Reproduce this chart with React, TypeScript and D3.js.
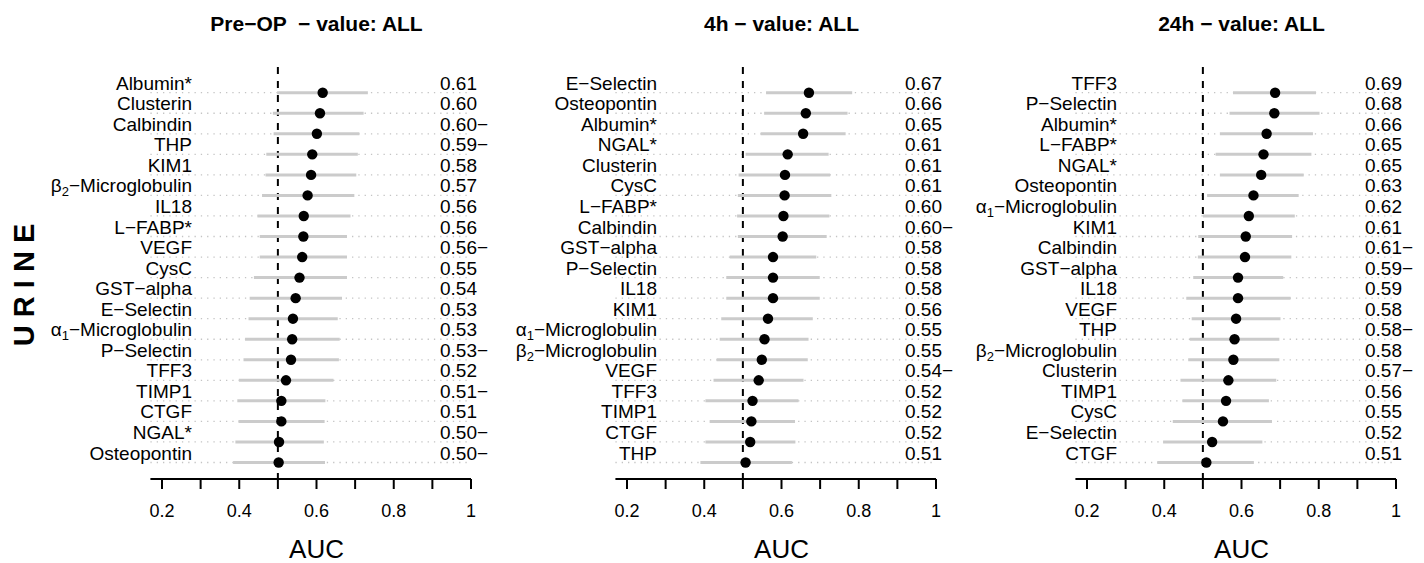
import * as d3 from 'd3';

// AUC dot plots for the urine markers, three time points

const preOpMarkers = ['Albumin*', 'Clusterin', 'Calbindin', 'THP', 'KIM1', 'β2−Microglobulin', 'IL18', 'L−FABP*', 'VEGF', 'CysC', 'GST−alpha', 'E−Selectin', 'α1−Microglobulin', 'P−Selectin', 'TFF3', 'TIMP1', 'CTGF', 'NGAL*', 'Osteopontin'];
const preOpAuc = [0.616, 0.609, 0.601, 0.589, 0.586, 0.577, 0.567, 0.566, 0.563, 0.556, 0.546, 0.539, 0.537, 0.534, 0.521, 0.509, 0.509, 0.503, 0.502];
const preOpLower = [0.498, 0.487, 0.489, 0.470, 0.468, 0.459, 0.447, 0.453, 0.453, 0.438, 0.427, 0.424, 0.415, 0.411, 0.399, 0.395, 0.398, 0.390, 0.384];
const preOpUpper = [0.733, 0.722, 0.711, 0.707, 0.703, 0.698, 0.688, 0.679, 0.679, 0.679, 0.666, 0.655, 0.660, 0.658, 0.644, 0.623, 0.621, 0.619, 0.622];
const preOpLabels = ['0.61', '0.60', '0.60−', '0.59−', '0.58', '0.57', '0.56', '0.56', '0.56−', '0.55', '0.54', '0.53', '0.53', '0.53−', '0.52', '0.51−', '0.51', '0.50−', '0.50−'];

const h4Markers = ['E−Selectin', 'Osteopontin', 'Albumin*', 'NGAL*', 'Clusterin', 'CysC', 'L−FABP*', 'Calbindin', 'GST−alpha', 'P−Selectin', 'IL18', 'KIM1', 'α1−Microglobulin', 'β2−Microglobulin', 'VEGF', 'TFF3', 'TIMP1', 'CTGF', 'THP'];
const h4Auc = [0.671, 0.663, 0.656, 0.616, 0.609, 0.608, 0.605, 0.603, 0.578, 0.578, 0.578, 0.565, 0.556, 0.549, 0.541, 0.525, 0.522, 0.519, 0.507];
const h4Lower = [0.560, 0.555, 0.546, 0.507, 0.489, 0.487, 0.485, 0.487, 0.466, 0.457, 0.457, 0.444, 0.440, 0.432, 0.424, 0.403, 0.414, 0.403, 0.390];
const h4Upper = [0.783, 0.771, 0.766, 0.722, 0.726, 0.729, 0.724, 0.717, 0.690, 0.699, 0.699, 0.681, 0.670, 0.668, 0.657, 0.644, 0.635, 0.636, 0.627];
const h4Labels = ['0.67', '0.66', '0.65', '0.61', '0.61', '0.61', '0.60', '0.60−', '0.58', '0.58', '0.58', '0.56', '0.55', '0.55', '0.54−', '0.52', '0.52', '0.52', '0.51'];

const h24Markers = ['TFF3', 'P−Selectin', 'Albumin*', 'L−FABP*', 'NGAL*', 'Osteopontin', 'α1−Microglobulin', 'KIM1', 'Calbindin', 'GST−alpha', 'IL18', 'VEGF', 'THP', 'β2−Microglobulin', 'Clusterin', 'TIMP1', 'CysC', 'E−Selectin', 'CTGF'];
const h24Auc = [0.687, 0.685, 0.665, 0.657, 0.651, 0.631, 0.619, 0.611, 0.609, 0.591, 0.591, 0.586, 0.582, 0.579, 0.566, 0.560, 0.552, 0.524, 0.509];
const h24Lower = [0.578, 0.569, 0.544, 0.533, 0.544, 0.511, 0.500, 0.488, 0.487, 0.475, 0.457, 0.471, 0.466, 0.462, 0.442, 0.447, 0.422, 0.397, 0.382];
const h24Upper = [0.793, 0.802, 0.785, 0.781, 0.761, 0.748, 0.738, 0.731, 0.729, 0.708, 0.727, 0.701, 0.698, 0.698, 0.690, 0.671, 0.679, 0.654, 0.632];
const h24Labels = ['0.69', '0.68', '0.66', '0.65', '0.65', '0.63', '0.62', '0.61', '0.61−', '0.59−', '0.59', '0.58', '0.58−', '0.58', '0.57−', '0.56', '0.55', '0.52', '0.51'];

const panelTitles = ['Pre−OP  − value: ALL', '4h − value: ALL', '24h − value: ALL'];
const xTicks = [0.2, 0.3, 0.4, 0.5, 0.6, 0.7, 0.8, 0.9, 1];
const xTickLabels = ['0.2', '', '0.4', '', '0.6', '', '0.8', '', '1'];

const W = 1424;
const H = 563;
const FONT = '"Liberation Sans", Arial, Helvetica, sans-serif';

const panels = [
  { left: 162, title: panelTitles[0], markers: preOpMarkers, auc: preOpAuc, lo: preOpLower, hi: preOpUpper, labels: preOpLabels },
  { left: 627, title: panelTitles[1], markers: h4Markers, auc: h4Auc, lo: h4Lower, hi: h4Upper, labels: h4Labels },
  { left: 1087, title: panelTitles[2], markers: h24Markers, auc: h24Auc, lo: h24Lower, hi: h24Upper, labels: h24Labels },
];

// greek letter with a subscript digit, e.g. β2−Microglobulin
function MarkerName({ name }: { name: string }) {
  const m = name.match(/^([αβ])(\d)(.*)$/);
  if (!m) return <>{name}</>;
  return (
    <>
      {m[1]}
      <tspan dy={4} fontSize={13}>{m[2]}</tspan>
      <tspan dy={-4}>{m[3]}</tspan>
    </>
  );
}

function Panel({ p }: { p: typeof panels[number] }) {
  const x = d3.scaleLinear().domain([0.2, 1]).range([p.left, p.left + 309]);
  const y = d3.scalePoint<number>().domain(d3.range(p.markers.length)).range([92.7, 462.5]);
  const axisY = 479;
  const x0 = x(0.17);
  const x1 = x(1);

  return (
    <g>
      <text x={(x(0.2) + x(1)) / 2} y={31} textAnchor="middle" fontSize={21} fontWeight="bold"
        style={{ whiteSpace: 'pre' }}>
        {p.title}
      </text>

      {/* dotted row guides */}
      {p.markers.map((_, i) => (
        <line key={'g' + i} x1={x0} x2={x(0.992)} y1={y(i)} y2={y(i)}
          stroke="#c4c4c4" strokeWidth={1.3} strokeDasharray="1.3,5" />
      ))}

      <line x1={x(0.5)} x2={x(0.5)} y1={67} y2={axisY} stroke="#000" strokeWidth={2} strokeDasharray="7,7" />

      {/* confidence intervals */}
      {p.markers.map((_, i) => (
        <line key={'ci' + i} x1={x(p.lo[i])} x2={x(p.hi[i])} y1={y(i)} y2={y(i)}
          stroke="#cbcbcb" strokeWidth={3} />
      ))}

      {p.markers.map((_, i) => (
        <circle key={'d' + i} cx={x(p.auc[i])} cy={y(i)} r={5.2} fill="#000" />
      ))}

      {p.markers.map((name, i) => (
        <text key={'n' + i} x={x(0.2) + 30} y={(y(i) ?? 0) - 3} textAnchor="end" fontSize={19}>
          <MarkerName name={name} />
        </text>
      ))}

      {p.labels.map((lab, i) => (
        <text key={'v' + i} x={x(0.2) + 278} y={(y(i) ?? 0) - 3} fontSize={19}>
          {lab}
        </text>
      ))}

      {/* x axis */}
      <line x1={x0} x2={x1} y1={axisY} y2={axisY} stroke="#000" strokeWidth={2} />
      {xTicks.map((t, i) => (
        <g key={'t' + i}>
          <line x1={x(t)} x2={x(t)} y1={axisY} y2={axisY + 10} stroke="#000" strokeWidth={2} />
          <text x={x(t)} y={517} textAnchor="middle" fontSize={18}>{xTickLabels[i]}</text>
        </g>
      ))}
      <text x={(x(0.2) + x(1)) / 2} y={558} textAnchor="middle" fontSize={26}>AUC</text>
    </g>
  );
}

export default function App() {
  return (
    <svg width={W} height={H} viewBox={`0 0 ${W} ${H}`}
      style={{ position: 'absolute', left: 0, top: 0, background: '#fff', fontFamily: FONT }}>
      <rect width={W} height={H} fill="#fff" />
      <text transform="translate(34,285) rotate(-90)" textAnchor="middle" fontSize={29} fontWeight="bold">
        U R I N E
      </text>
      {panels.map((p, i) => <Panel key={i} p={p} />)}
    </svg>
  );
}
